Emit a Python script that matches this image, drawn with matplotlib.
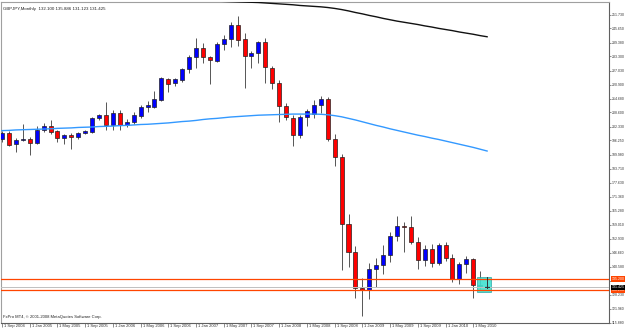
import matplotlib
matplotlib.use('Agg')
import matplotlib.pyplot as plt
from matplotlib.patches import Rectangle
import matplotlib.transforms as mtransforms

# ---- data (monthly GBPJPY, Sep 2004 .. Jul 2010) ----
opens = [196.8, 199.7, 194.8, 196.6, 197.1, 195.3, 201.0, 202.5, 200.3, 197.3,
         198.8, 197.7, 199.5, 200.0, 206.2, 207.5, 203.1, 208.5, 203.1, 204.5,
         207.0, 210.9, 211.1, 214.1, 223.4, 221.5, 222.9, 227.6, 233.2, 236.9,
         232.9, 231.3, 238.7, 240.9, 247.2, 240.9, 233.5, 235.0, 239.8, 228.1,
         221.7, 211.5, 206.2, 198.8, 206.5, 207.8, 211.8, 214.4, 196.8, 189.1,
         159.6, 147.0, 131.0, 130.4, 139.6, 141.5, 145.8, 153.9, 158.4, 158.2,
         151.6, 143.7, 148.4, 142.0, 150.2, 144.5, 135.2, 141.9, 143.8, 132.4,
         132.1]
highs = [200.5, 200.3, 197.2, 203.7, 197.8, 202.6, 203.8, 205.5, 200.8, 199.2,
         199.5, 200.0, 200.8, 206.8, 208.1, 213.4, 209.8, 209.8, 205.8, 209.0,
         212.0, 213.5, 218.0, 224.1, 223.7, 224.0, 228.3, 233.8, 241.3, 239.1,
         233.5, 239.5, 242.8, 248.3, 251.2, 243.8, 235.8, 240.1, 241.3, 229.0,
         222.9, 213.0, 207.5, 207.5, 210.0, 214.1, 215.9, 215.5, 199.0, 190.5,
         164.0, 149.5, 135.7, 142.0, 144.3, 150.0, 156.0, 163.0, 160.5, 163.0,
         153.5, 150.0, 150.8, 151.0, 151.5, 146.0, 142.5, 145.5, 144.5, 138.5,
         135.886]
lows = [195.8, 193.6, 191.2, 196.0, 189.8, 194.8, 200.0, 199.0, 195.5, 194.8,
        192.6, 197.0, 199.0, 199.5, 205.5, 200.9, 200.9, 200.9, 202.0, 203.5,
        206.0, 209.0, 210.5, 213.6, 217.8, 220.5, 222.0, 226.0, 228.1, 230.3,
        221.0, 231.0, 236.2, 237.5, 237.9, 219.3, 228.1, 230.3, 221.5, 219.0,
        204.5, 205.5, 194.0, 197.5, 202.5, 206.0, 208.2, 196.0, 185.0, 139.3,
        140.5, 126.6, 118.8, 126.5, 131.5, 137.5, 142.5, 152.0, 147.0, 150.5,
        139.5, 141.0, 140.6, 141.5, 143.0, 134.0, 133.0, 138.0, 126.7, 130.8,
        131.123]
closes = [199.7, 194.3, 196.6, 196.9, 195.3, 201.0, 202.5, 199.8, 197.4, 198.8,
          198.0, 199.5, 200.4, 206.2, 207.4, 203.1, 208.5, 203.1, 204.5, 207.5,
          210.9, 211.9, 214.4, 223.7, 221.2, 223.2, 227.6, 233.2, 237.2, 232.9,
          231.7, 238.8, 240.9, 247.2, 240.6, 233.5, 235.0, 239.8, 228.8, 221.5,
          211.5, 206.5, 198.5, 206.5, 209.2, 211.8, 214.4, 196.8, 189.1, 159.6,
          147.0, 131.0, 130.4, 139.6, 141.5, 145.8, 153.9, 158.4, 158.2, 151.6,
          143.7, 148.4, 142.0, 150.2, 144.5, 135.2, 141.9, 143.8, 132.4, 132.2,
          131.425]

ma_blue = [200.6, 200.7, 200.9, 201.0, 201.1, 201.2, 201.3, 201.4, 201.6, 201.7,
           201.8, 202.0, 202.1, 202.2, 202.4, 202.5, 202.6, 202.8, 202.9, 203.1,
           203.3, 203.4, 203.6, 203.8, 204.0, 204.3, 204.6, 204.8, 205.1, 205.5,
           205.8, 206.0, 206.3, 206.6, 206.8, 207.0, 207.2, 207.4, 207.5, 207.6,
           207.7, 207.8, 207.9, 207.9, 207.9, 207.9, 207.8, 207.6, 207.2, 206.7,
           206.0, 205.3, 204.5, 203.7, 202.9, 202.2, 201.4, 200.7, 200.0, 199.3,
           198.6, 198.0, 197.3, 196.7, 196.0, 195.3, 194.6, 193.9, 193.2, 192.4,
           191.6]
ma_black_first = 28
ma_black = [258.5, 258.0, 257.8, 257.7, 257.6, 257.5, 257.4, 257.3, 257.2, 257.1,
            256.9, 256.7, 256.5, 256.3, 256.1, 255.8, 255.6, 255.4, 255.2, 254.9,
            254.5, 254.0, 253.4, 252.7, 252.1, 251.4, 250.8, 250.1, 249.5, 248.9,
            248.4, 247.9, 247.4, 246.8, 246.3, 245.7, 245.2, 244.7, 244.1, 243.6,
            243.1, 242.5, 242.0]

price_ticks = [251.730, 245.650, 239.380, 233.300, 227.030, 220.900, 214.680,
               208.600, 202.330, 196.250, 189.980, 183.710, 177.630, 171.360,
               165.280, 159.010, 152.930, 146.660, 140.580, 134.310, 128.230,
               121.960, 115.880]
date_labels = ["1 Sep 2004", "1 Jan 2005", "1 May 2005", "1 Sep 2005",
               "1 Jan 2006", "1 May 2006", "1 Sep 2006", "1 Jan 2007",
               "1 May 2007", "1 Sep 2007", "1 Jan 2008", "1 May 2008",
               "1 Sep 2008", "1 Jan 2009", "1 May 2009", "1 Sep 2009",
               "1 Jan 2010", "1 May 2010"]
date_label_step = 4

title_text = "GBPJPY,Monthly  132.100 135.886 131.123 131.425"
copyright_text = "FxPro MT4, \u00a9 2001-2008 MetaQuotes Software Corp."
hline_levels = [135.200, 130.200]
bid_level = 131.425
box_price = (129.4, 136.0)
box_bars = (68.5, 70.5)

# ---- figure ----
W, H = 625, 330
fig = plt.figure(figsize=(W / 100, H / 100), dpi=100)
fig.patch.set_facecolor('white')
ax = fig.add_axes([1 / W, (H - 322.7) / H, 608 / W, (322.7 - 2) / H])
ax.set_facecolor('white')

ymin, ymax = 115.88, 257.33
ax.set_ylim(ymin, ymax)
px_per_bar = 6.93
x0_px = 2.0
ax.set_xlim((1 - x0_px) / px_per_bar, (609 - x0_px) / px_per_bar)

FONT = 'Liberation Sans'
TICK_FS = 2.5

# candles
n = len(opens)
bw = 0.58
for i in range(n):
    o, h, l, c = opens[i], highs[i], lows[i], closes[i]
    ax.plot([i, i], [l, h], color='#555555', lw=0.7, zorder=2,
            solid_capstyle='butt')
    bottom = min(o, c)
    height = max(abs(c - o), 0.25)
    face = '#0000FF' if c >= o else '#FF0000'
    ax.add_patch(Rectangle((i - bw / 2, bottom), bw, height, facecolor=face,
                           edgecolor='#222222', lw=0.5, zorder=3))

# moving averages
ax.plot(range(n), ma_blue, color='#3399FF', lw=1.0, zorder=4)
ax.plot(range(ma_black_first, ma_black_first + len(ma_black)), ma_black,
        color='#111111', lw=1.0, zorder=4)

# horizontal lines
for lv in hline_levels:
    ax.axhline(lv, color='#FF4500', lw=0.9, zorder=5)
ax.axhline(bid_level, color='#C0C0C0', lw=0.7, zorder=5)

# rectangle object
ax.add_patch(Rectangle((box_bars[0], box_price[0]), box_bars[1] - box_bars[0],
                       box_price[1] - box_price[0], facecolor='#40E0D0',
                       edgecolor='#20A0A0', lw=0.5, zorder=4, alpha=0.9))
# last bar drawn on top of the box
ax.plot([n - 1, n - 1], [lows[-1], highs[-1]], color='#333333', lw=0.7,
        zorder=6)
ax.plot([n - 1.3, n - 0.7], [closes[-1], closes[-1]], color='#333333',
        lw=0.7, zorder=6)

# axes styling
for s in ['left', 'top']:
    ax.spines[s].set_color('#A0A0A0')
    ax.spines[s].set_linewidth(0.8)
for s in ['right', 'bottom']:
    ax.spines[s].set_color('#606060')
    ax.spines[s].set_linewidth(0.8)

ax.yaxis.tick_right()
ax.set_yticks(price_ticks)
ax.set_yticklabels(['%.3f' % v for v in price_ticks], fontsize=TICK_FS,
                   family=FONT, color='#333333')
ax.tick_params(axis='y', length=1.5, width=0.5, color='#606060', pad=0.6)

date_idx = [k * date_label_step for k in range(len(date_labels))]
ax.set_xticks(date_idx)
ax.set_xticklabels([])
ax.tick_params(axis='x', length=3, width=0.5, color='#606060', direction='out')
trans = mtransforms.blended_transform_factory(ax.transData, ax.transAxes)
off = mtransforms.ScaledTranslation(2 / 100, -1.5 / 100, fig.dpi_scale_trans)
for i, lab in zip(date_idx, date_labels):
    ax.text(i, 0, lab, transform=trans + off, fontsize=3.0, family=FONT,
            ha='left', va='top', color='#333333', clip_on=False)

# price boxes on right axis
ytrans = mtransforms.blended_transform_factory(ax.transAxes, ax.transData)
for lv in hline_levels:
    ax.text(1.004, lv, '%.3f' % lv, transform=ytrans, fontsize=TICK_FS,
            family=FONT, color='white', ha='left', va='center', zorder=10,
            clip_on=False,
            bbox=dict(boxstyle='square,pad=0.2', fc='#FF4500', ec='none'))
ax.text(1.004, bid_level, '%.3f' % bid_level, transform=ytrans,
        fontsize=TICK_FS, family=FONT, color='white', ha='left', va='center',
        zorder=10, clip_on=False,
        bbox=dict(boxstyle='square,pad=0.2', fc='black', ec='none'))

# texts
ax.text(0.004, 0.985, title_text, transform=ax.transAxes, fontsize=3.2,
        family=FONT, color='#222222', ha='left', va='top')
ax.text(0.004, 0.012, copyright_text, transform=ax.transAxes, fontsize=3.0,
        family=FONT, color='#222222', ha='left', va='bottom')

fig.savefig('out.png', dpi=100, facecolor='white')
